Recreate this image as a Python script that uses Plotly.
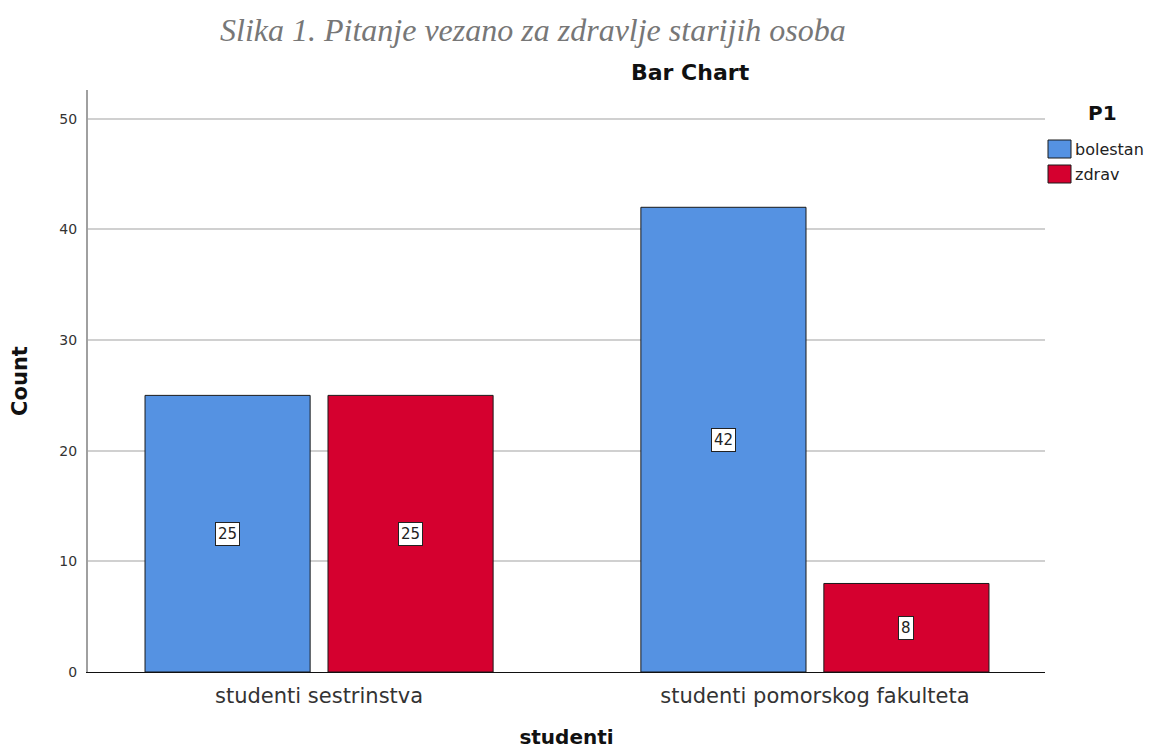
import plotly.graph_objects as go

categories = ["studenti sestrinstva", "studenti pomorskog fakulteta"]
series_names = ["bolestan", "zdrav"]
bolestan = [25, 42]
zdrav = [25, 8]
colors = ["#5592E2", "#D5002F"]
y_ticks = [0, 10, 20, 30, 40, 50]

BAR_W = 0.333
offsets = [-0.351, 0.018]

sans = "DejaVu Sans, Verdana, sans-serif"

# page is rendered with an 8px body margin; plot area target in page pixels
PX0, PX1, PY0, PY1 = 88, 1045, 90, 672
OFF = 8
FIG_W, FIG_H = 1142, 752


def px(x):
    return (x - PX0) / (PX1 - PX0)


def py(y):
    return (PY1 - y) / (PY1 - PY0)


fig = go.Figure()
for name, vals, col, off in zip(series_names, [bolestan, zdrav], colors, offsets):
    fig.add_trace(go.Bar(
        x=categories, y=vals, name=name,
        marker=dict(color=col, line=dict(color="#1a1a1a", width=1)),
        width=BAR_W, offset=off, showlegend=False,
    ))
    for i, v in enumerate(vals):
        fig.add_annotation(
            x=i + off + BAR_W / 2, y=v / 2, xref="x", yref="y",
            text=str(v), showarrow=False,
            font=dict(family=sans, size=15, color="#222"),
            bgcolor="white", bordercolor="#222", borderwidth=1, borderpad=2,
        )

fig.update_layout(
    width=FIG_W, height=FIG_H,
    margin=dict(l=PX0 - OFF, r=FIG_W - (PX1 - OFF), t=PY0 - OFF, b=FIG_H - (PY1 - OFF)),
    paper_bgcolor="white", plot_bgcolor="white",
    barmode="overlay",
    showlegend=False,
    xaxis=dict(
        range=[-0.466, 1.464],
        showline=True, linecolor="#111", linewidth=1,
        ticks="", showgrid=False, automargin=False,
        ticklabelstandoff=5,
        tickfont=dict(family=sans, size=21, color="#333"),
        title=dict(text="<b>studenti</b>", font=dict(family=sans, size=20, color="#111"), standoff=22),
    ),
    yaxis=dict(
        range=[0, 52.6],
        tickvals=y_ticks,
        showline=True, linecolor="#a0a0a0", linewidth=2,
        showgrid=True, gridcolor="#d0d0d0", gridwidth=2,
        ticks="", ticklen=0, automargin=False,
        ticklabelstandoff=6,
        tickfont=dict(family=sans, size=14, color="#333"),
        title=dict(text="<b>Count</b>", font=dict(family=sans, size=21, color="#111"), standoff=27),
        zeroline=False,
    ),
)

# titles
fig.add_annotation(
    xref="paper", yref="paper", x=px(533), y=py(30),
    text="<i>Slika 1. Pitanje vezano za zdravlje starijih osoba</i>",
    showarrow=False, xanchor="center", yanchor="middle",
    font=dict(family="Liberation Serif, Times New Roman, serif", size=32, color="#777"),
)
fig.add_annotation(
    xref="paper", yref="paper", x=px(690), y=py(72),
    text="<b>Bar Chart</b>",
    showarrow=False, xanchor="center", yanchor="middle",
    font=dict(family=sans, size=22, color="#111"),
)

# legend (drawn manually to match swatch size and spacing)
fig.add_annotation(
    xref="paper", yref="paper", x=px(1102), y=py(113),
    text="<b>P1</b>", showarrow=False, xanchor="center", yanchor="middle",
    font=dict(family=sans, size=20, color="#111"),
)
for k, (name, col) in enumerate(zip(series_names, colors)):
    top = 140 + 25 * k
    fig.add_shape(
        type="rect", xref="paper", yref="paper",
        x0=px(1048), x1=px(1071), y0=py(top + 18), y1=py(top),
        fillcolor=col, line=dict(color="#1a1a1a", width=1),
    )
    fig.add_annotation(
        xref="paper", yref="paper", x=px(1073), y=py(top + 9),
        text=name, showarrow=False, xanchor="left", yanchor="middle",
        font=dict(family=sans, size=16, color="#222"),
    )

fig.write_html("out.html")
